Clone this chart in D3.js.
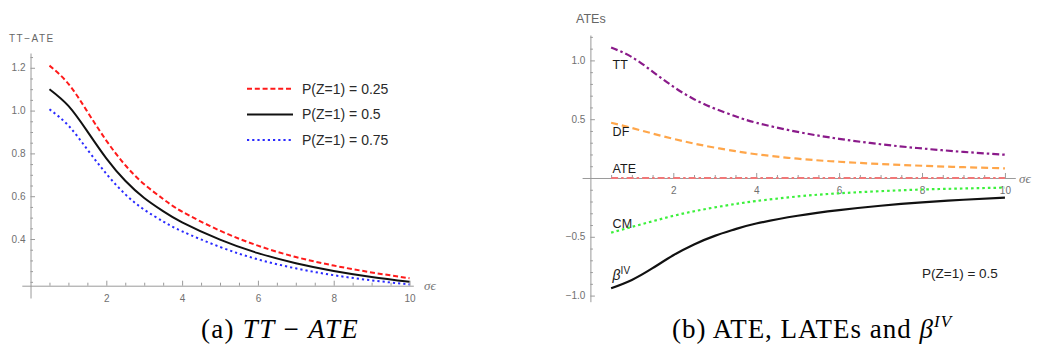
<!DOCTYPE html>
<html>
<head>
<meta charset="utf-8">
<script src="https://cdn.jsdelivr.net/npm/d3@7"></script>
<style>
  body { margin: 0; background: #fff; }
  svg { display: block; }
  .tick text { fill: #707070; font-family: "Liberation Sans", Arial, sans-serif; font-size: 10px; }
  .tick line, .domain { stroke: #9a9a9a; stroke-width: 1; }
</style>
</head>
<body>
<svg id="chart" width="1042" height="349"></svg>
<script>
"use strict";

// ---- panel (a): TT - ATE against sigma_eps, one curve per P(Z=1)
var sigmaA = [0.5, 1, 1.5, 2, 2.5, 3, 3.5, 4, 5, 6, 7, 8, 9, 10];
var ttAte025 = [1.21, 1.125, 0.995, 0.86, 0.745, 0.656, 0.587, 0.528, 0.439, 0.369, 0.316, 0.276, 0.244, 0.217];
var ttAte050 = [1.10, 1.022, 0.903, 0.777, 0.672, 0.592, 0.53, 0.478, 0.397, 0.334, 0.287, 0.251, 0.223, 0.20];
var ttAte075 = [1.006, 0.93, 0.818, 0.705, 0.609, 0.537, 0.482, 0.436, 0.363, 0.305, 0.263, 0.231, 0.207, 0.188];
var legendA = ["P(Z=1) = 0.25", "P(Z=1) = 0.5", "P(Z=1) = 0.75"];
var xTicksA = [2, 4, 6, 8, 10];
var yTicksA = [0.4, 0.6, 0.8, 1.0, 1.2];

// ---- panel (b): treatment effects at P(Z=1) = 0.5
var sigmaB = [0.5, 1, 1.5, 2, 2.5, 3, 3.5, 4, 5, 6, 7, 8, 9, 10];
var ttB = [1.11, 1.028, 0.905, 0.777, 0.67, 0.59, 0.525, 0.47, 0.392, 0.333, 0.287, 0.251, 0.222, 0.198];
var dfB = [0.47, 0.425, 0.378, 0.333, 0.293, 0.258, 0.228, 0.202, 0.164, 0.138, 0.119, 0.104, 0.092, 0.082];
var ateB = [0, 0, 0, 0, 0, 0, 0, 0, 0, 0, 0, 0, 0, 0];
var cmB = [-0.465, -0.416, -0.368, -0.322, -0.283, -0.25, -0.221, -0.196, -0.157, -0.13, -0.112, -0.098, -0.089, -0.082];
var ivB = [-0.938, -0.867, -0.767, -0.657, -0.565, -0.492, -0.435, -0.387, -0.321, -0.273, -0.236, -0.207, -0.185, -0.167];
var namesB = ["TT", "DF", "ATE", "CM", "β"];
var xTicksB = [2, 4, 6, 8, 10];
var yTicksB = [-1.0, -0.5, 0.5, 1.0];

var svg = d3.select("#chart");
var sans = "'Liberation Sans', Arial, sans-serif";
var serif = "'Liberation Serif', 'DejaVu Serif', serif";
var minus = function (v) { return d3.format(".1f")(v).replace("-", "\u2212"); };

function minorTicks(lo, hi, step, majors) {
        var out = [];
        for (var v = lo; v <= hi + 1e-9; v += step) {
                var r = Math.round(v * 100) / 100;
                if (!majors.some(function (m) { return Math.abs(m - r) < 1e-9; })) out.push(r);
        }
        return out;
}

function drawAxes(g, x, y, xAt, yAt, xMajor, yMajor, xMinor, yMinor, yFmt) {
        // minor ticks first, then the major ticks with labels
        g.append("g").attr("transform", "translate(0," + y(xAt) + ")")
                .call(d3.axisBottom(x).tickValues(xMinor).tickFormat("").tickSizeInner(-3).tickSizeOuter(0))
                .select(".domain").remove();
        g.append("g").attr("transform", "translate(0," + y(xAt) + ")")
                .call(d3.axisBottom(x).tickValues(xMajor).tickSizeInner(-5).tickSizeOuter(0).tickPadding(9));
        g.append("g").attr("transform", "translate(" + x(yAt) + ",0)")
                .call(d3.axisLeft(y).tickValues(yMinor).tickFormat("").tickSizeInner(-2.5).tickSizeOuter(0))
                .select(".domain").remove();
        g.append("g").attr("transform", "translate(" + x(yAt) + ",0)")
                .call(d3.axisLeft(y).tickValues(yMajor).tickFormat(yFmt).tickSizeInner(-4.5).tickSizeOuter(0).tickPadding(5));
}

function drawCurve(g, x, y, xs, ys, color, dash, width) {
        var line = d3.line()
                .x(function (d) { return x(d[0]); })
                .y(function (d) { return y(d[1]); })
                .curve(d3.curveNatural);
        g.append("path")
                .datum(d3.zip(xs, ys))
                .attr("d", line)
                .attr("fill", "none")
                .attr("stroke", color)
                .attr("stroke-width", width)
                .attr("stroke-dasharray", dash);
}

// ================= panel (a) =================
var gA = svg.append("g");
var xA = d3.scaleLinear().domain([-0.23, 10.1]).range([21.8, 413.3]);
var yA = d3.scaleLinear().domain([0.1245, 1.269]).range([298, 53]);

drawAxes(gA, xA, yA, 0.182, 0, xTicksA, yTicksA,
        minorTicks(0.5, 10, 0.5, xTicksA), minorTicks(0.2, 1.25, 0.05, yTicksA), d3.format(".1f"));

gA.append("text").attr("x", 9).attr("y", 42)
        .attr("font-family", sans).attr("font-size", 10).attr("letter-spacing", 1.5)
        .attr("fill", "#666").text("TT\u2212ATE");
gA.append("text").attr("x", 424).attr("y", 290)
        .attr("font-family", serif).attr("font-style", "italic").attr("font-size", 13)
        .attr("fill", "#777").text("σϵ");

var seriesA = [
        { v: ttAte025, color: "#ff1a1a", dash: "5,2.8" },
        { v: ttAte050, color: "#111", dash: null },
        { v: ttAte075, color: "#2a2aff", dash: "2.2,3" }
];
seriesA.forEach(function (s) { drawCurve(gA, xA, yA, sigmaA, s.v, s.color, s.dash, 2); });

// legend
seriesA.forEach(function (s, i) {
        var ly = 88.7 + i * 25.7;
        gA.append("line").attr("x1", 247).attr("x2", 293).attr("y1", ly).attr("y2", ly)
                .attr("stroke", s.color).attr("stroke-width", 2).attr("stroke-dasharray", s.dash);
        gA.append("text").attr("x", 302).attr("y", ly + 5)
                .attr("font-family", sans).attr("font-size", 14).attr("fill", "#2a2a2a")
                .text(legendA[i]);
});

// ================= panel (b) =================
var gB = svg.append("g");
var xB = d3.scaleLinear().domain([-0.2, 10.25]).range([582.1, 1015.3]);
var yB = d3.scaleLinear().domain([-1.052, 1.216]).range([301.7, 35]);

drawAxes(gB, xB, yB, 0, 0, xTicksB, yTicksB,
        minorTicks(0.5, 10, 0.5, xTicksB), minorTicks(-1.0, 1.2, 0.1, yTicksB.concat([0])), minus);

gB.append("text").attr("x", 576).attr("y", 22.5)
        .attr("font-family", sans).attr("font-size", 12.5).attr("fill", "#666").text("ATEs");
gB.append("text").attr("x", 1019).attr("y", 183)
        .attr("font-family", serif).attr("font-style", "italic").attr("font-size", 13)
        .attr("fill", "#777").text("σϵ");

var seriesB = [
        { v: ttB, color: "#8a1a8a", dash: "7,3,2.5,3", off: 21.5 },
        { v: dfB, color: "#ffa64a", dash: "7,4", off: 13.5 },
        { v: ateB, color: "#f07878", dash: "7,3,2.5,3", off: -5 },
        { v: cmB, color: "#3cf03c", dash: "2.6,3", off: -4.7 },
        { v: ivB, color: "#111", dash: null, off: -8 }
];
seriesB.forEach(function (s) { drawCurve(gB, xB, yB, sigmaB, s.v, s.color, s.dash, 2.2); });

// curve names next to the left end of each curve
seriesB.forEach(function (s, i) {
        var t = gB.append("text").attr("x", xB(sigmaB[0]) + 1.5).attr("y", yB(s.v[0]) + s.off)
                .attr("font-family", sans).attr("font-size", 12.5).attr("fill", "#1a1a1a");
        if (namesB[i] === "β") {
                t.append("tspan").attr("font-style", "italic").attr("font-size", 14).text("β");
                t.append("tspan").attr("dy", -6).attr("font-size", 10).text("IV");
        } else {
                t.text(namesB[i]);
        }
});

gB.append("text").attr("x", 922).attr("y", 278)
        .attr("font-family", sans).attr("font-size", 13.5).attr("fill", "#222").text("P(Z=1) = 0.5");

// ================= captions =================
var capA = svg.append("text").attr("x", 280).attr("y", 338).attr("text-anchor", "middle")
        .attr("font-family", serif).attr("font-size", 27).attr("letter-spacing", 1.3).attr("fill", "#000");
capA.append("tspan").text("(a) ");
capA.append("tspan").attr("font-style", "italic").text("TT");
capA.append("tspan").text(" \u2212 ");
capA.append("tspan").attr("font-style", "italic").text("ATE");

var capB = svg.append("text").attr("x", 812).attr("y", 338).attr("text-anchor", "middle")
        .attr("font-family", serif).attr("font-size", 27).attr("letter-spacing", 1).attr("fill", "#000");
capB.append("tspan").text("(b) ATE, LATEs and ");
capB.append("tspan").attr("font-style", "italic").text("β");
capB.append("tspan").attr("font-style", "italic").attr("font-size", 17).attr("dy", -11).text("IV");
</script>
</body>
</html>
